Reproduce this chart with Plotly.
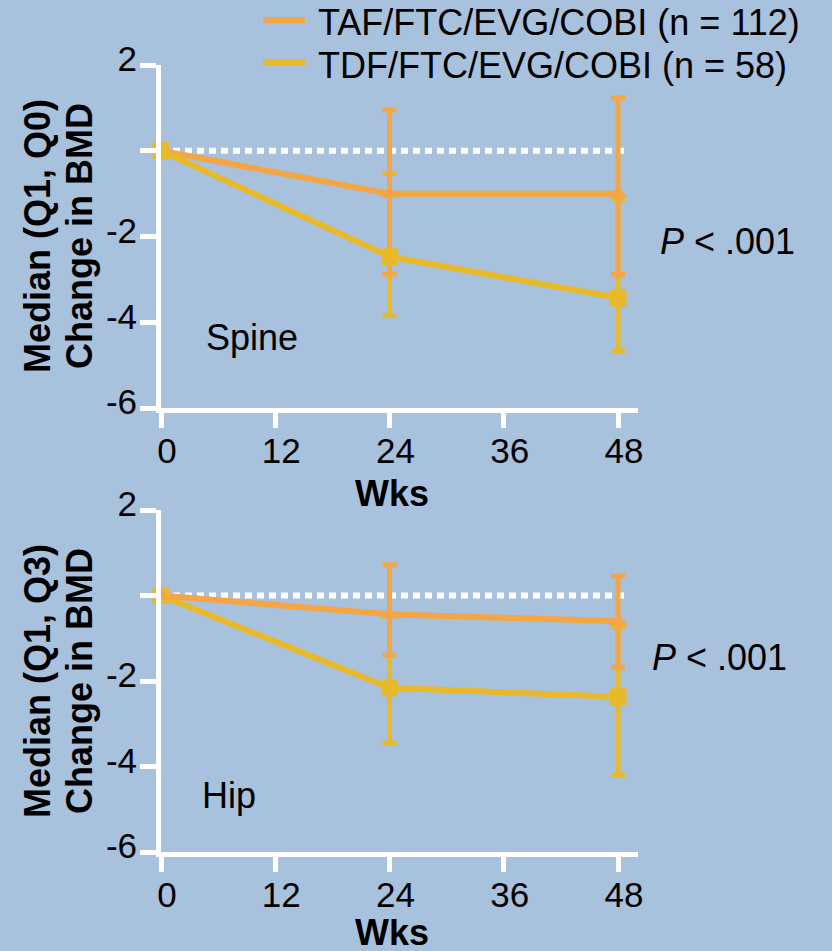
import plotly.graph_objects as go

weeks = [0, 24, 48]
series_names = ["TAF/FTC/EVG/COBI (n = 112)", "TDF/FTC/EVG/COBI (n = 58)"]
colors = ["#F4A645", "#E8BA2A"]
symbols = ["triangle-up", "square"]

# Spine
spine_med = [[0, -1.0, -1.0], [0, -2.47, -3.43]]
spine_q3 = [[0, 0.95, 1.23], [0, -0.53, -1.14]]
spine_q1 = [[0, -2.88, -2.88], [0, -3.84, -4.67]]
# Hip
hip_med = [[0, -0.44, -0.6], [0, -2.16, -2.37]]
hip_q3 = [[0, 0.72, 0.46], [0, -0.48, -0.74]]
hip_q1 = [[0, -1.4, -1.68], [0, -3.45, -4.2]]

x_ticks = [0, 12, 24, 36, 48]
y_ticks = [2, 0, -2, -4, -6]
y_ticktext = ["2", "", "-2", "-4", "-6"]

W, H = 832, 951
FONT = "Liberation Sans, Arial, sans-serif"

fig = go.Figure()

def px_x(p):
    return p / W

def px_y(p):
    return 1 - p / H

panels = [
    dict(xa="x", ya="y", med=spine_med, q1=spine_q1, q3=spine_q3, order=[0, 1]),
    dict(xa="x2", ya="y2", med=hip_med, q1=hip_q1, q3=hip_q3, order=[1, 0]),
]

for pi, p in enumerate(panels):
    for s in [1, 0]:
        plus = [p["q3"][s][i] - p["med"][s][i] for i in range(3)]
        minus = [p["med"][s][i] - p["q1"][s][i] for i in range(3)]
        fig.add_trace(go.Scatter(
            x=weeks, y=p["med"][s], xaxis=p["xa"], yaxis=p["ya"], mode="markers",
            marker=dict(size=1, color="rgba(0,0,0,0)"),
            error_y=dict(type="data", symmetric=False, array=plus, arrayminus=minus,
                         color=colors[s], thickness=5, width=7),
            showlegend=False, hoverinfo="skip", cliponaxis=False))
    for s in p["order"]:
        fig.add_trace(go.Scatter(
            x=weeks, y=p["med"][s], xaxis=p["xa"], yaxis=p["ya"], mode="lines",
            line=dict(color=colors[s], width=6), name=series_names[s],
            showlegend=False, cliponaxis=False))
    for s in p["order"]:
        fig.add_trace(go.Scatter(
            x=weeks, y=p["med"][s], xaxis=p["xa"], yaxis=p["ya"], mode="markers",
            marker=dict(symbol=symbols[s], size=17 if s == 1 else 16, color=colors[s]),
            showlegend=False, cliponaxis=False))

xdom = [px_x(161), px_x(638)]
axis_common = dict(showline=True, linecolor="white", linewidth=5, ticks="outside",
                   tickcolor="white", tickwidth=5, showgrid=False, zeroline=False,
                   automargin=False,
                   tickfont=dict(family=FONT, size=35, color="black"))

fig.update_layout(
    width=W, height=H, margin=dict(l=0, r=0, t=0, b=0, pad=0),
    paper_bgcolor="#A8C1DD", plot_bgcolor="rgba(0,0,0,0)",
    xaxis=dict(domain=xdom, range=[0, 50.1], anchor="y", tickvals=x_ticks, ticklen=15,
               ticklabelshift=6, ticklabelstandoff=-7, **axis_common),
    yaxis=dict(domain=[px_y(408), px_y(65)], range=[-6, 2], anchor="x", tickvals=y_ticks,
               ticktext=y_ticktext, ticklen=16, ticklabelshift=-6, ticklabelstandoff=-4,
               **axis_common),
    xaxis2=dict(domain=xdom, range=[0, 50.1], anchor="y2", tickvals=x_ticks, ticklen=15,
                ticklabelshift=6, ticklabelstandoff=-7, **axis_common),
    yaxis2=dict(domain=[px_y(852), px_y(510)], range=[-6, 2], anchor="x2", tickvals=y_ticks,
                ticktext=y_ticktext, ticklen=16, ticklabelshift=-6, ticklabelstandoff=-4,
                **axis_common),
    showlegend=False,
)

for ya in ["y", "y2"]:
    fig.add_shape(type="line", xref="x" if ya == "y" else "x2", yref=ya, x0=0, x1=49, y0=0, y1=0,
                  line=dict(color="white", width=6, dash="7px,5px"), layer="below")

# legend (drawn manually)
legend_rows = [20, 62]
for s, yy in enumerate(legend_rows):
    fig.add_shape(type="line", xref="paper", yref="paper", x0=px_x(263), x1=px_x(305),
                  y0=px_y(yy), y1=px_y(yy), line=dict(color=colors[s], width=6))
    fig.add_annotation(xref="paper", yref="paper", x=px_x(316), y=px_y(yy + 3), text=series_names[s],
                       showarrow=False, xanchor="left", yanchor="middle",
                       font=dict(family=FONT, size=36, color="black"))

ann_font = dict(family=FONT, size=36, color="black")
title_font = dict(family=FONT, size=36, color="black")
annots = [
    dict(text="<b>Median (Q1, Q0)</b>", x=px_x(37), y=px_y(236), textangle=-90, font=title_font),
    dict(text="<b>Change in BMD</b>", x=px_x(79), y=px_y(236), textangle=-90, font=title_font),
    dict(text="<b>Median (Q1, Q3)</b>", x=px_x(37), y=px_y(681), textangle=-90, font=title_font),
    dict(text="<b>Change in BMD</b>", x=px_x(79), y=px_y(681), textangle=-90, font=title_font),
    dict(text="<b>Wks</b>", x=px_x(392), y=px_y(493), height=32, font=ann_font),
    dict(text="<b>Wks</b>", x=px_x(392), y=px_y(932), height=26, font=ann_font),
    dict(text="Spine", x=px_x(252), y=px_y(337), font=ann_font),
    dict(text="Hip", x=px_x(229), y=px_y(795), font=ann_font),
    dict(text="<i>P</i> < .001", x=px_x(727), y=px_y(242), font=ann_font),
    dict(text="<i>P</i> < .001", x=px_x(719), y=px_y(657), font=ann_font),
]
for a in annots:
    fig.add_annotation(xref="paper", yref="paper", showarrow=False, xanchor="center",
                       yanchor="middle", **a)

fig.write_html("out.html")
